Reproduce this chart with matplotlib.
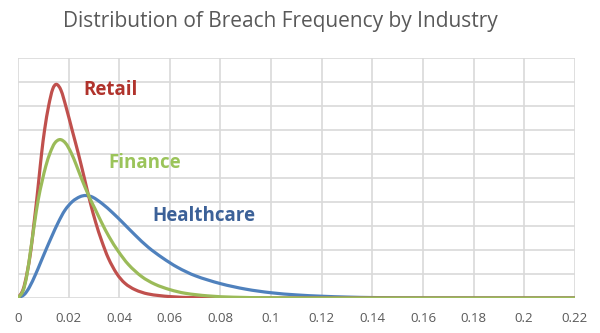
import matplotlib
matplotlib.use("Agg")
import matplotlib.pyplot as plt
from matplotlib.path import Path
from matplotlib.patches import PathPatch

# values (y in gridline units)
retail_x = [0, 0.002, 0.0035, 0.0051, 0.0062, 0.0073, 0.0083, 0.0093, 0.0105, 0.0121, 0.0137,
            0.0152, 0.017, 0.019, 0.0215, 0.024, 0.0262, 0.0285, 0.0307, 0.033, 0.0357, 0.039,
            0.0422, 0.0462, 0.0514, 0.06, 0.07, 0.08, 0.22]
retail_y = [0, 0.35, 1.0, 2.0, 3.0, 4.0, 5.0, 6.0, 7.0, 8.0, 8.7,
            8.9, 8.65, 7.95, 6.95, 5.95, 5.0, 4.0, 3.15, 2.4, 1.66, 1.02,
            0.62, 0.35, 0.17, 0.06, 0.015, 0.004, 0]

finance_x = [0, 0.002, 0.0035, 0.005, 0.0065, 0.008, 0.0095, 0.011, 0.0127, 0.0145, 0.0166,
             0.0188, 0.021, 0.023, 0.025, 0.0282, 0.0305, 0.033, 0.036, 0.0396, 0.0436,
             0.0488, 0.054, 0.06, 0.066, 0.075, 0.085, 0.1, 0.12, 0.22]
finance_y = [0, 0.3, 0.95, 2.0, 3.1, 4.1, 4.85, 5.5, 6.05, 6.45, 6.6,
             6.45, 6.05, 5.55, 5.0, 4.2, 3.7, 3.15, 2.55, 1.95, 1.4,
             0.9, 0.58, 0.35, 0.2, 0.09, 0.035, 0.01, 0.002, 0]

health_x = [0, 0.0025, 0.0045, 0.007, 0.009, 0.011, 0.0134, 0.0159, 0.0185, 0.0215, 0.0245,
            0.0268, 0.0295, 0.0334, 0.0374, 0.0413, 0.0462, 0.0514, 0.057, 0.063, 0.07,
            0.08, 0.09, 0.1, 0.11, 0.12, 0.13, 0.14, 0.16, 0.22]
health_y = [0, 0.15, 0.45, 1.0, 1.5, 2.0, 2.58, 3.15, 3.65, 4.02, 4.22,
            4.27, 4.2, 3.92, 3.55, 3.15, 2.63, 2.12, 1.68, 1.28, 0.93,
            0.6, 0.37, 0.22, 0.13, 0.075, 0.04, 0.02, 0.005, 0]

xticks = [0, 0.02, 0.04, 0.06, 0.08, 0.1, 0.12, 0.14, 0.16, 0.18, 0.2, 0.22]
xtick_labels = ["0", "0.02", "0.04", "0.06", "0.08", "0.1", "0.12", "0.14", "0.16", "0.18", "0.2", "0.22"]


def smooth_line(ax, xs, ys, color):
    # Excel-style smoothed line: cubic bezier through the read points
    n = len(xs)
    slopes = []
    for i in range(n):
        a = max(i - 1, 0)
        b = min(i + 1, n - 1)
        slopes.append((ys[b] - ys[a]) / (xs[b] - xs[a]))
    verts = [(xs[0], ys[0])]
    codes = [Path.MOVETO]
    for i in range(n - 1):
        h = xs[i + 1] - xs[i]
        verts += [(xs[i] + h / 3, ys[i] + slopes[i] * h / 3),
                  (xs[i + 1] - h / 3, ys[i + 1] - slopes[i + 1] * h / 3),
                  (xs[i + 1], ys[i + 1])]
        codes += [Path.CURVE4] * 3
    ax.add_patch(PathPatch(Path(verts, codes), fill=False, edgecolor=color, lw=2.3,
                           capstyle='round', joinstyle='round'))


plt.rcParams['font.family'] = ['Open Sans', 'DejaVu Sans']

fig = plt.figure(figsize=(6, 3.33), dpi=100)
ax = fig.add_axes([0.03, 0.105, 0.928, 0.721])

smooth_line(ax, health_x, health_y, '#4F81BD')
smooth_line(ax, retail_x, retail_y, '#C0504D')
smooth_line(ax, finance_x, finance_y, '#9BBB59')

ax.text(0.0257, 8.67, "Retail", color='#B0332C', fontsize=13.5, fontweight='bold', va='center')
ax.text(0.0356, 5.63, "Finance", color='#9BC45A', fontsize=13.5, fontweight='bold', va='center')
ax.text(0.053, 3.42, "Healthcare", color='#3C6198', fontsize=13.5, fontweight='bold', va='center')

ax.set_xlim(0, 0.22)
ax.set_ylim(0, 10)
ax.set_xticks(xticks)
ax.set_xticklabels(xtick_labels)
ax.set_yticks(range(0, 11))
ax.set_yticklabels([])
ax.grid(True, color='#D9D9D9', lw=1.2)
ax.set_axisbelow(True)
for s in ax.spines.values():
    s.set_visible(False)
ax.tick_params(length=0, pad=10, labelsize=9.5, labelcolor='#595959')

fig.text(0.468, 0.935, "Distribution of Breach Frequency by Industry", ha='center', va='center',
         fontsize=15, color='#595959')

fig.savefig("out.png", dpi=100)
